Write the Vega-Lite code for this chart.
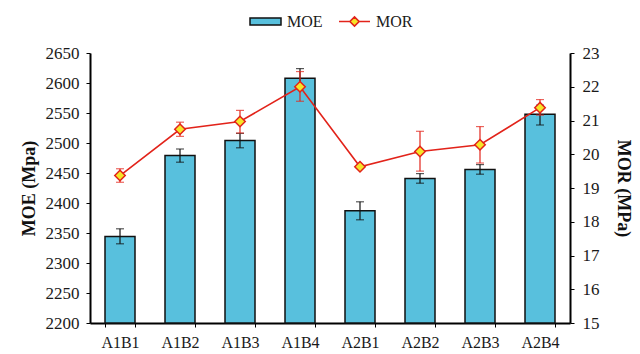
{
  "$schema": "https://vega.github.io/schema/vega-lite/v6.json",
  "width": 480,
  "height": 270,
  "autosize": "none",
  "padding": {"left": 90, "top": 53, "right": 70, "bottom": 31},
  "background": "white",
  "config": {
    "view": {"stroke": null},
    "font": "Liberation Serif",
    "axis": {
      "grid": false,
      "domainColor": "#000000",
      "domainWidth": 2,
      "tickColor": "#000000",
      "tickWidth": 1,
      "tickSize": 4,
      "labelFont": "Liberation Serif",
      "labelFontSize": 17,
      "labelColor": "#1a1a1a",
      "titleFont": "Liberation Serif",
      "titleFontSize": 18,
      "titleFontWeight": "bold",
      "titleColor": "#111111"
    },
    "legend": {
      "labelFont": "Liberation Serif",
      "labelFontSize": 16,
      "labelColor": "#1a1a1a"
    }
  },
  "data": {
    "values": [
      {"group": "A1B1", "moe": 2344, "moe_lo": 2332, "moe_hi": 2357, "mor": 19.37, "mor_lo": 19.17, "mor_hi": 19.57},
      {"group": "A1B2", "moe": 2479, "moe_lo": 2468, "moe_hi": 2490, "mor": 20.74, "mor_lo": 20.53, "mor_hi": 20.95},
      {"group": "A1B3", "moe": 2504, "moe_lo": 2492, "moe_hi": 2516, "mor": 20.97, "mor_lo": 20.63, "mor_hi": 21.3},
      {"group": "A1B4", "moe": 2608, "moe_lo": 2592, "moe_hi": 2624, "mor": 22.0, "mor_lo": 21.57, "mor_hi": 22.45},
      {"group": "A2B1", "moe": 2387, "moe_lo": 2372, "moe_hi": 2402, "mor": 19.63, "mor_lo": 19.6, "mor_hi": 19.66},
      {"group": "A2B2", "moe": 2441, "moe_lo": 2433, "moe_hi": 2449, "mor": 20.08, "mor_lo": 19.5, "mor_hi": 20.68},
      {"group": "A2B3", "moe": 2456, "moe_lo": 2448, "moe_hi": 2464, "mor": 20.28, "mor_lo": 19.74, "mor_hi": 20.82},
      {"group": "A2B4", "moe": 2548, "moe_lo": 2530, "moe_hi": 2563, "mor": 21.38, "mor_lo": 21.16, "mor_hi": 21.62}
    ]
  },
  "encoding": {
    "x": {
      "field": "group",
      "type": "nominal",
      "sort": null,
      "scale": {"paddingInner": 0.5, "paddingOuter": 0.25},
      "axis": {"title": null, "labelAngle": 0, "tickBand": "extent", "labelPadding": 7, "labelFontSize": 16}
    }
  },
  "layer": [
    {
      "encoding": {
        "y": {
          "field": "moe",
          "type": "quantitative",
          "scale": {"domain": [2200, 2650], "nice": false, "zero": false},
          "axis": {"orient": "left", "title": "MOE (Mpa)", "format": "d", "values": [2200, 2250, 2300, 2350, 2400, 2450, 2500, 2550, 2600, 2650], "labelPadding": 7, "titlePadding": 7}
        }
      },
      "layer": [
        {
          "mark": {"type": "bar", "stroke": "#111111", "strokeWidth": 1.5},
          "encoding": {
            "y2": {"datum": 2200},
            "fill": {
              "datum": "MOE",
              "scale": {"range": ["#58C0DD"]},
              "legend": {
                "title": null,
                "orient": "none",
                "legendX": 159,
                "legendY": -48,
                "padding": 0,
                "symbolType": "M-1,-0.23H1V0.23H-1Z",
                "symbolSize": 961,
                "symbolStrokeWidth": 1.5,
                "labelOffset": 5
              }
            }
          }
        },
        {
          "mark": {"type": "rule", "color": "#111111", "strokeWidth": 1.2},
          "encoding": {"y": {"field": "moe_lo", "type": "quantitative"}, "y2": {"field": "moe_hi"}}
        },
        {
          "mark": {"type": "tick", "color": "#111111", "size": 8, "thickness": 1.2},
          "encoding": {"y": {"field": "moe_lo", "type": "quantitative"}}
        },
        {
          "mark": {"type": "tick", "color": "#111111", "size": 8, "thickness": 1.2},
          "encoding": {"y": {"field": "moe_hi", "type": "quantitative"}}
        }
      ]
    },
    {
      "encoding": {
        "y": {
          "field": "mor",
          "type": "quantitative",
          "scale": {"domain": [15, 23], "nice": false, "zero": false},
          "axis": {"orient": "right", "title": "MOR (MPa)", "values": [15, 16, 17, 18, 19, 20, 21, 22, 23], "labelPadding": 8, "titlePadding": 14}
        }
      },
      "layer": [
        {
          "mark": {"type": "rule", "color": "#E2231A", "strokeWidth": 1.2},
          "encoding": {"y": {"field": "mor_lo", "type": "quantitative"}, "y2": {"field": "mor_hi"}}
        },
        {
          "mark": {"type": "tick", "color": "#E2231A", "size": 8, "thickness": 1.2},
          "encoding": {"y": {"field": "mor_lo", "type": "quantitative"}}
        },
        {
          "mark": {"type": "tick", "color": "#E2231A", "size": 8, "thickness": 1.2},
          "encoding": {"y": {"field": "mor_hi", "type": "quantitative"}}
        },
        {
          "mark": {"type": "line", "strokeWidth": 1.6},
          "encoding": {
            "stroke": {
              "datum": "MOR",
              "scale": {"range": ["#E2231A"]},
              "legend": {
                "title": null,
                "orient": "none",
                "legendX": 248,
                "legendY": -48,
                "padding": 0,
                "symbolType": "M-1,0H-0.3M0.3,0H1M-0.3,0L0,-0.3L0.3,0L0,0.3Z",
                "symbolSize": 961,
                "symbolStrokeWidth": 1.6,
                "symbolFillColor": "#F6E528",
                "labelOffset": 5
              }
            }
          }
        },
        {
          "mark": {"type": "point", "shape": "diamond", "size": 110, "filled": true, "fill": "#F6E528", "stroke": "#E2231A", "strokeWidth": 1.5, "opacity": 1},
          "encoding": {}
        }
      ]
    }
  ],
  "resolve": {"scale": {"y": "independent"}}
}
